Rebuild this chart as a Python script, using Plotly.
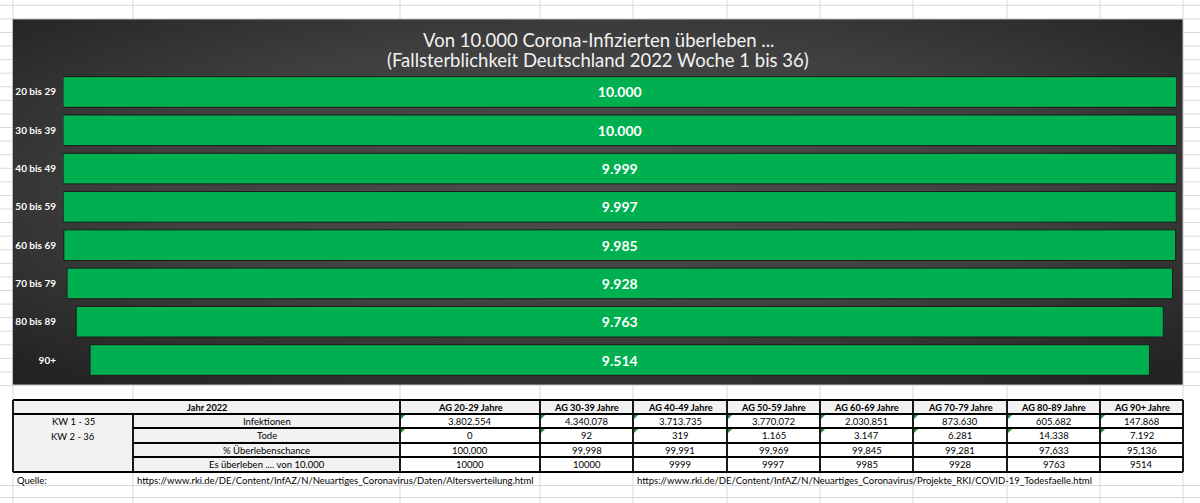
import base64
import plotly.graph_objects as go

# ---------------- data ----------------
age_labels = ["20 bis 29", "30 bis 39", "40 bis 49", "50 bis 59",
              "60 bis 69", "70 bis 79", "80 bis 89", "90+"]
survivors = [10000, 10000, 9999, 9997, 9985, 9928, 9763, 9514]

table_groups = ["AG 20-29 Jahre", "AG 30-39 Jahre", "AG 40-49 Jahre", "AG 50-59 Jahre",
                "AG 60-69 Jahre", "AG 70-79 Jahre", "AG 80-89 Jahre", "AG 90+ Jahre"]
infections = [3802554, 4340078, 3713735, 3770072, 2030851, 873630, 605682, 147868]
deaths = [0, 92, 319, 1165, 3147, 6281, 14338, 7192]
survival_pct = [100.000, 99.998, 99.991, 99.969, 99.845, 99.281, 97.633, 95.136]
row_labels = ["Infektionen", "Tode", "% Überlebenschance", "Es überleben .... von 10.000"]
period_labels = ["KW 1 - 35", "KW 2 - 36"]
header_label = "Jahr 2022"
title_lines = ["Von 10.000 Corona-Infizierten überleben ...",
               "(Fallsterblichkeit Deutschland 2022 Woche 1 bis 36)"]
source_label = "Quelle:"
source_urls = ["https://www.rki.de/DE/Content/InfAZ/N/Neuartiges_Coronavirus/Daten/Altersverteilung.html",
               "https://www.rki.de/DE/Content/InfAZ/N/Neuartiges_Coronavirus/Projekte_RKI/COVID-19_Todesfaelle.html"]

W, H = 1200, 503
FONT = "Lato"


def X(px):
    return px / W


def Y(py):
    return 1 - py / H


def de_int(v):
    return f"{v:,}".replace(",", ".")


def de_dec(v):
    return f"{v:.3f}".replace(".", ",")


fig = go.Figure()

# ---------------- funnel (centered bars) ----------------
fig.add_trace(go.Funnel(
    y=age_labels,
    x=survivors,
    texttemplate="%{x:,.0f}",
    textposition="inside",
    insidetextanchor="middle",
    textfont=dict(family=FONT, size=14, color="white", weight="bold"),
    marker=dict(color="#00b050", line=dict(color="#1b1b1b", width=1)),
    connector=dict(visible=False),
    hoverinfo="skip",
    constraintext="none",
))

shapes = []
annotations = []
images = []

# ---------------- excel gridlines ----------------
grid_col = "#d9d9d9"
chart_l, chart_r, chart_t, chart_b = 12.5, 1183, 19, 385
ys = [5.3 + 13.58 * k for k in range(29)] + [485.5, 497.5]
for yy in ys:
    if chart_t - 1 < yy < chart_b + 1:
        segs = [(0, chart_l), (chart_r, W)]
    else:
        segs = [(0, W)]
    for a, b in segs:
        shapes.append(dict(type="line", xref="paper", yref="paper", x0=X(a), x1=X(b),
                           y0=Y(yy), y1=Y(yy), line=dict(color=grid_col, width=1), layer="below"))
col_edges = [13, 133, 400, 540, 633, 727, 820, 913, 1007, 1100, 1183]
for xx in col_edges:
    for a, b in [(0, chart_t), (chart_b, 400), (472, H)]:
        shapes.append(dict(type="line", xref="paper", yref="paper", x0=X(xx), x1=X(xx),
                           y0=Y(a), y1=Y(b), line=dict(color=grid_col, width=1), layer="below"))

# ---------------- chart background (gradient) ----------------
svg = ('<svg xmlns="http://www.w3.org/2000/svg" width="1170" height="366">'
       '<defs><radialGradient id="g" cx="50%" cy="45%" r="70%">'
       '<stop offset="0" stop-color="#4d4d4d"/><stop offset="0.55" stop-color="#404040"/>'
       '<stop offset="1" stop-color="#232323"/></radialGradient></defs>'
       '<rect width="100%" height="100%" fill="url(#g)"/></svg>')
src = "data:image/svg+xml;base64," + base64.b64encode(svg.encode()).decode()
images.append(dict(source=src, xref="paper", yref="paper", x=X(chart_l), y=Y(chart_t),
                   sizex=X(chart_r) - X(chart_l), sizey=(chart_b - chart_t) / H,
                   sizing="stretch", xanchor="left", yanchor="top", layer="below"))
shapes.append(dict(type="rect", xref="paper", yref="paper", x0=X(chart_l), x1=X(chart_r),
                   y0=Y(chart_t), y1=Y(chart_b), line=dict(color="#bfbfbf", width=1),
                   fillcolor="rgba(0,0,0,0)", layer="below"))

# title
for i, line in enumerate(title_lines):
    annotations.append(dict(text=line, xref="paper", yref="paper", x=X(598), y=Y(40 + 20 * i),
                            xanchor="center", yanchor="middle", showarrow=False,
                            font=dict(family=FONT, size=18.5, color="#f2f2f2")))

# ---------------- table ----------------
row_edges = [400, 414, 428, 443, 457, 472]
gray = "#f2f2f2"
shapes.append(dict(type="rect", xref="paper", yref="paper", x0=X(13), x1=X(1183),
                   y0=Y(400), y1=Y(414), fillcolor=gray, line=dict(width=0)))
shapes.append(dict(type="rect", xref="paper", yref="paper", x0=X(13), x1=X(400),
                   y0=Y(414), y1=Y(472), fillcolor=gray, line=dict(width=0)))
shapes.append(dict(type="rect", xref="paper", yref="paper", x0=X(400), x1=X(1183),
                   y0=Y(414), y1=Y(472), fillcolor="white", line=dict(width=0)))

bl = dict(color="black", width=1.8)
for i, ry in enumerate(row_edges):
    x0 = 13 if i in (0, 1, 5) else 133
    shapes.append(dict(type="line", xref="paper", yref="paper", x0=X(x0), x1=X(1183),
                       y0=Y(ry), y1=Y(ry), line=bl))
shapes.append(dict(type="line", xref="paper", yref="paper", x0=X(13), x1=X(13),
                   y0=Y(400), y1=Y(472), line=bl))
shapes.append(dict(type="line", xref="paper", yref="paper", x0=X(133), x1=X(133),
                   y0=Y(414), y1=Y(472), line=bl))
for xx in col_edges[2:]:
    shapes.append(dict(type="line", xref="paper", yref="paper", x0=X(xx), x1=X(xx),
                       y0=Y(400), y1=Y(472), line=bl))

tfont = dict(family=FONT, size=9.5, color="black")
bfont = dict(family=FONT, size=9.2, color="black", weight="bold")


def cell_text(text, x, y, font, anchor="center"):
    annotations.append(dict(text=text, xref="paper", yref="paper", x=X(x), y=Y(y),
                            xanchor=anchor, yanchor="middle", showarrow=False, font=font))


mid_rows = [(row_edges[i] + row_edges[i + 1]) / 2 for i in range(5)]
cell_text(header_label, (13 + 400) / 2, mid_rows[0], bfont)
for j, g in enumerate(table_groups):
    cx = (col_edges[j + 2] + col_edges[j + 3]) / 2
    cell_text(g, cx, mid_rows[0], bfont)
    vals = [de_int(infections[j]), de_int(deaths[j]), de_dec(survival_pct[j]), str(survivors[j])]
    for r, v in enumerate(vals):
        cell_text(v, cx, mid_rows[r + 1], tfont)
    for r in (1, 2):
        x0 = col_edges[j + 2] + 1
        y0 = row_edges[r] + 1
        path = f"M {X(x0)},{Y(y0)} L {X(x0 + 4)},{Y(y0)} L {X(x0)},{Y(y0 + 4)} Z"
        shapes.append(dict(type="path", xref="paper", yref="paper", path=path,
                           fillcolor="#1e8c3a", line=dict(width=0)))
for r, lab in enumerate(row_labels):
    cell_text(lab, (133 + 400) / 2, mid_rows[r + 1], tfont)
cell_text(period_labels[0], 73, 421, tfont)
cell_text(period_labels[1], 73, 436, tfont)

cell_text(source_label, 15, 480, tfont, anchor="left")
cell_text(source_urls[0], 135, 480, tfont, anchor="left")
cell_text(source_urls[1], 635, 480, tfont, anchor="left")

# ---------------- layout ----------------
fig.update_layout(
    width=W, height=H,
    margin=dict(l=0, r=0, t=0, b=0),
    paper_bgcolor="white",
    plot_bgcolor="rgba(0,0,0,0)",
    separators=",.",
    showlegend=False,
    shapes=shapes,
    annotations=annotations,
    images=images,
    xaxis=dict(domain=[X(63), X(1176.5)], range=[-5000, 5000], visible=False, fixedrange=True),
    yaxis=dict(domain=[Y(379.15), Y(72.85)], autorange="reversed",
               categoryorder="array", categoryarray=age_labels,
               showgrid=False, zeroline=False, showline=False,
               ticks="outside", ticklen=4, tickcolor="rgba(0,0,0,0)",
               tickfont=dict(family=FONT, size=10, color="white", weight="bold"),
               fixedrange=True),
    bargap=0.32,
)

fig.write_html("out.html", config={"displayModeBar": False},
               post_script="document.body.style.margin='0';document.body.style.overflow='hidden';")
